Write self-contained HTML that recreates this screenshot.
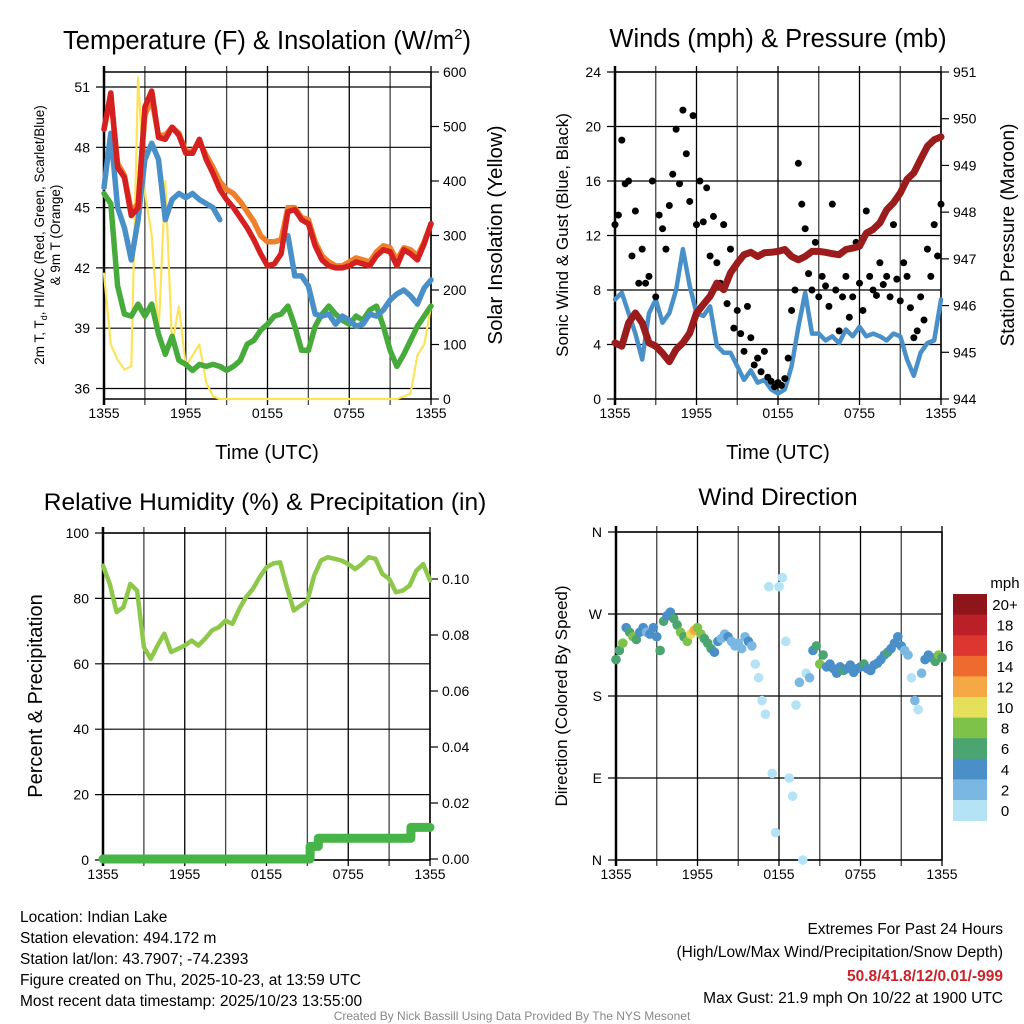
<!DOCTYPE html>
<html><head><meta charset="utf-8"><style>
html,body{margin:0;padding:0;background:#fff}
svg{display:block;font-family:"Liberation Sans",sans-serif}
</style></head><body>
<svg id="s" width="1024" height="1024" viewBox="0 0 1024 1024" xmlns="http://www.w3.org/2000/svg">
<g id="bg"></g>
<g id="fg"></g>
<text x="267" y="49" font-size="25.5" text-anchor="middle">Temperature (F) &amp; Insolation (W/m<tspan font-size="15" dy="-10">2</tspan><tspan dy="10">)</tspan></text>
<text x="778" y="47" font-size="25.5" text-anchor="middle">Winds (mph) &amp; Pressure (mb)</text>
<text x="265" y="510" font-size="24.5" text-anchor="middle">Relative Humidity (%) &amp; Precipitation (in)</text>
<text x="778" y="505" font-size="24.5" text-anchor="middle">Wind Direction</text>
<text x="267" y="459" font-size="20" text-anchor="middle">Time (UTC)</text>
<text x="778" y="459" font-size="20" text-anchor="middle">Time (UTC)</text>
<text transform="translate(44,235) rotate(-90)" font-size="13.5" text-anchor="middle">2m T, T<tspan font-size="9" dy="3">d</tspan><tspan dy="-3">, HI/WC (Red, Green, Scarlet/Blue)</tspan></text>
<text transform="translate(60,235) rotate(-90)" font-size="13.5" text-anchor="middle">&amp; 9m T (Orange)</text>
<text transform="translate(502,235) rotate(-90)" font-size="20.5" text-anchor="middle">Solar Insolation (Yellow)</text>
<text transform="translate(568,235) rotate(-90)" font-size="17" text-anchor="middle">Sonic Wind &amp; Gust (Blue, Black)</text>
<text transform="translate(1014,235) rotate(-90)" font-size="19" text-anchor="middle">Station Pressure (Maroon)</text>
<text transform="translate(42,696) rotate(-90)" font-size="20" text-anchor="middle">Percent &amp; Precipitation</text>
<text transform="translate(567,696) rotate(-90)" font-size="17" text-anchor="middle">Direction (Colored By Speed)</text>
<text x="1005" y="588" font-size="15" text-anchor="middle">mph</text>
<g font-size="15.5">
<text x="20" y="922">Location: Indian Lake</text>
<text x="20" y="943">Station elevation: 494.172 m</text>
<text x="20" y="964">Station lat/lon: 43.7907; -74.2393</text>
<text x="20" y="985">Figure created on Thu, 2025-10-23, at 13:59 UTC</text>
<text x="20" y="1006">Most recent data timestamp: 2025/10/23 13:55:00</text>
</g>
<g font-size="15.5" text-anchor="end">
<text x="1003" y="934">Extremes For Past 24 Hours</text>
<text x="1003" y="957">(High/Low/Max Wind/Precipitation/Snow Depth)</text>
<text x="1003" y="981" fill="#cc2229" font-weight="bold">50.8/41.8/12/0.01/-999</text>
<text x="1003" y="1003">Max Gust: 21.9 mph On 10/22 at 1900 UTC</text>
</g>
<text x="512" y="1020" font-size="12" fill="#888" text-anchor="middle">Created By Nick Bassill Using Data Provided By The NYS Mesonet</text>
</svg>
<script>
// ---- data (30-min steps unless noted) ----
const xTicks = ["1355","1955","0155","0755","1355"];
const tempT = [48.9,50.7,47.0,46.5,44.6,45.0,50.0,50.8,48.5,48.4,49.0,48.6,47.7,47.7,48.4,47.4,46.7,45.9,45.4,45.0,44.5,44.0,43.4,42.7,42.1,42.2,42.7,44.8,44.9,44.4,44.2,43.1,42.4,42.1,42.0,42.0,42.1,42.3,42.2,42.1,42.6,42.9,42.8,42.1,42.9,42.7,42.4,43.2,44.2];
const temp9m = [48.9,50.5,47.2,46.6,44.8,45.2,49.6,50.4,48.6,48.6,49.0,48.7,47.8,47.8,48.3,47.6,47.0,46.3,45.9,45.7,45.3,44.8,44.3,43.6,43.3,43.3,43.4,45.0,45.0,44.5,44.4,43.3,42.6,42.3,42.1,42.1,42.3,42.5,42.4,42.3,42.8,43.1,43.0,42.4,43.0,42.9,42.6,43.3,44.2];
const tempWC = [46.0,48.7,45.0,44.0,42.4,44.4,47.4,48.2,47.4,44.4,45.4,45.7,45.5,45.7,45.4,45.2,45.0,44.4,null,44.5,null,null,null,null,null,null,null,43.6,41.6,41.6,41.1,39.7,39.6,39.7,39.2,39.6,39.4,39.1,39.2,39.7,39.6,39.9,40.4,40.7,40.9,40.6,40.2,41.0,41.4];
const tempTd = [45.7,45.2,41.1,39.7,39.6,40.2,39.6,40.2,38.7,37.7,38.6,37.4,37.2,36.9,37.2,37.1,37.2,37.1,36.9,37.1,37.4,38.2,38.4,38.9,39.2,39.6,39.7,40.1,39.1,37.9,37.9,39.1,39.7,40.1,39.7,39.4,39.2,39.6,39.4,39.9,40.1,39.1,37.9,37.1,37.7,38.4,39.1,39.6,40.1];
const solar = [230,100,72,54,60,590,380,300,120,400,100,170,60,80,100,30,5,0,0,0,0,0,0,0,0,0,0,0,0,0,0,0,0,0,0,0,0,0,0,0,0,0,0,0,5,10,80,100,170];
const windSpd = [7.3,7.8,6.3,4.8,2.9,6.3,7.3,5.6,6.3,8.0,11.0,8.3,6.3,6.1,6.8,3.9,3.4,3.4,2.4,1.4,2.1,1.2,1.4,0.7,0.4,0.7,2.4,5.3,7.8,4.8,4.8,4.3,4.6,4.1,5.1,4.6,5.3,4.6,4.8,4.6,4.3,4.8,4.6,2.9,1.7,3.4,4.1,4.3,7.3];
const pressure = [945.2,945.13,945.63,945.84,945.63,945.2,945.13,944.98,944.8,945.06,945.2,945.41,945.84,946.02,946.2,946.48,946.34,946.7,946.91,947.09,947.14,947.05,947.13,947.14,947.16,947.2,947.05,946.98,947.05,947.16,947.16,947.14,947.11,947.09,947.2,947.23,947.27,947.55,947.63,947.77,948.05,948.2,948.41,948.7,948.84,949.13,949.41,949.55,949.61];
// 15-min steps
const gust = [12.8,13.5,19,15.8,16,10.5,13.8,8.5,11, 8.5,9,16,7.5,13.5,12.5,11,14.2, 16.5,19.8,15.8,21.2,18,14.5,20.8,12.8, 16,13,15.5,10.5,13.4,10,8.5,12.8, 7,11,5.2,6.5,4.8,3.5,6.8,4.5, 2.5,3,2,3.5,1.6,1.3,0.9,1.2, 1,1.5,3,6.5,8,17.3,14.3,12.5, 9.2,8,11.5,7.5,9,8.3,6.8,14.3, 8,5,7.5,9,6,7.5,11.5,8.5, 6.5,13.8,9,8,7.6,10,8.4,9, 7.5,12.8,8.8,7.2,10,9,6.7,4.5, 5,7.5,5.8,11,9,12.8,10.5,14.3];
const rh = [90,84.4,75.8,77.3,84.4,82.4,65.1,61.5,65.6,69.2,63.6,64.6,65.6,67.1,65.6,67.7,70.2,71.2,73.2,72.2,76.8,80.4,82.9,86.5,89.5,90.7,91,83.4,76.3,77.8,79.3,87,91.6,92.6,92.1,91.6,90.5,89,90.5,92.6,92.1,87.5,86,81.9,82.4,83.9,88.5,90.5,85.5];
const precipT = [0,15.2,15.8,22.6,24];
const precipV = [0,0.0045,0.0074,0.0113,0.0113];
const windDir = [220,230,238,255,250,245,242,250,255, 250,248,255,245,230,262,268,272, 265,258,250,245,240,248,252,255, 248,243,238,232,228,240,243,248, 245,240,235,238,232,245,240,235, 215,200,175,160,300,95,30,300, 310,240,90,70,170,195,0,205, 200,230,235,215,225,212,215,210, 205,212,208,210,214,206,210,212, 215,210,208,214,216,220,225,228, 232,238,245,235,230,225,200,175, 165,205,220,225,222,218,225,222];
const dirSpd = [6,7,8,5,7,8,7,5,4, 3,4,5,4,7,6,5,4, 6,7,8,7,9,10,12,9, 8,7,7,6,5,4,3,3, 4,3,3,2,3,2,4,3, 1,1,0.5,1,1,1,1,0.5, 1,1,0.5,1,1,2,0.5,1, 3,5,7,8,6,4,5,4, 4,5,6,4,5,4,4,5, 7,4,5,4,5,4,5,6, 5,4,5,4,3,3,1,2, 1,3,4,5,4,6,8,6];
const legendLabels = ["20+","18","16","14","12","10","8","6","4","2","0"];
const legendColors = ["#8e1519","#bb1f27","#dd3530","#ee6a2e","#f5a844","#e5e05a","#7fc24a","#4aa570","#4a8fc7","#7ab8e3","#b3e3f5"];

const NS="http://www.w3.org/2000/svg";
const bg=document.getElementById('bg'), fg=document.getElementById('fg');
function mk(tag,attrs,parent){const e=document.createElementNS(NS,tag);for(const k in attrs)e.setAttribute(k,attrs[k]);(parent||fg).appendChild(e);return e;}
function txt(x,y,s,size,anchor,parent){const t=mk('text',{x:x,y:y,'font-size':size,'text-anchor':anchor||'middle'},parent);t.textContent=s;return t;}

function panel(p){
  for(let h=0;h<=24;h+=3){const x=p.X(h);
    const l=mk('line',{x1:x,x2:x,y1:p.y0-6,y2:p.y1+6,stroke:(h%6? '#444':'#000'),'stroke-width':1.3},bg);
    
    }
  for(let i=0;i<xTicks.length;i++){const t=txt(p.X(i*6),p.y1+19,xTicks[i],14);
    
    }
  mk('rect',{x:p.x0,y:p.y0,width:p.x1-p.x0,height:p.y1-p.y0,fill:'none',stroke:'#000','stroke-width':1.5},bg);
  mk('line',{x1:p.x0,x2:p.x0,y1:p.y0-6,y2:p.y1+6,stroke:'#000','stroke-width':2.5},bg);
}
function hgrid(p,vals,Y,labels,side){
  vals.forEach((v,i)=>{const y=Y(v);
    const l=mk('line',{x1:p.x0-8,x2:p.x1+(side?8:0),y1:y,y2:y,stroke:'#000','stroke-width':1.2},bg);
    
    
    const t=txt(p.x0-14,y+5,labels[i],14,'end');
    
    });
}
function rticks(p,vals,Y,labels){
  vals.forEach((v,i)=>{const y=Y(v);
    mk('line',{x1:p.x1,x2:p.x1+8,y1:y,y2:y,stroke:'#000','stroke-width':1.2},bg);
    const t=txt(p.x1+12,y+5,labels[i],14,'start');
    
    });
}
function line(arr,step,X,Y,color,w,name){
  let d='',pen=false;
  arr.forEach((v,i)=>{if(v===null){pen=false;return;}d+=(pen?'L':'M')+X(i*step).toFixed(1)+' '+Y(v).toFixed(1);pen=true;});
  const e=mk('path',{d:d,fill:'none',stroke:color,'stroke-width':w,'stroke-linejoin':'round','stroke-linecap':'round'});
  
  
  return e;
}

// ---- Panel 1: temperature ----
const P1={x0:104,x1:431,y0:72,y1:399};P1.X=h=>P1.x0+h/24*(P1.x1-P1.x0);
const Y1=v=>87+(51-v)*20.1, S1=v=>399-v/600*327;
panel(P1);
hgrid(P1,[36,39,42,45,48,51],Y1,["36","39","42","45","48","51"]);
rticks(P1,[0,100,200,300,400,500,600],S1,["0","100","200","300","400","500","600"]);
line(solar,0.5,P1.X,S1,'#fde35a',2.2,'solar-line');
line(tempTd,0.5,P1.X,Y1,'#46ab3a',5.5,'dewpoint-line');
line(tempWC,0.5,P1.X,Y1,'#4a90c8',5.5,'windchill-line');
line(temp9m,0.5,P1.X,Y1,'#f07f2a',5.5,'temp-9m-line');
line(tempT,0.5,P1.X,Y1,'#d42020',5.5,'temp-2m-line');

// ---- Panel 2: winds ----
const P2={x0:615,x1:941,y0:72,y1:399};P2.X=h=>P2.x0+h/24*(P2.x1-P2.x0);
const Y2=v=>399-v*327/24, PR=v=>399-(v-944)*327/7;
panel(P2);
hgrid(P2,[0,4,8,12,16,20,24],Y2,["0","4","8","12","16","20","24"]);
rticks(P2,[944,945,946,947,948,949,950,951],PR,["944","945","946","947","948","949","950","951"]);
line(windSpd,0.5,P2.X,Y2,'#4a90c8',4.5,'wind-speed-line');
gust.forEach((g,i)=>{const c=mk('circle',{cx:P2.X(i*0.25),cy:Y2(g),r:3.5,fill:'#000'});
  
  });
line(pressure,0.5,P2.X,PR,'#9b1c1c',7,'pressure-line');

// ---- Panel 3: RH ----
const P3={x0:103,x1:430,y0:533,y1:860};P3.X=h=>P3.x0+h/24*(P3.x1-P3.x0);
const Y3=v=>860-v*3.27, PC=v=>859-v*2800;
panel(P3);
hgrid(P3,[0,20,40,60,80,100],Y3,["0","20","40","60","80","100"]);
rticks(P3,[0,0.02,0.04,0.06,0.08,0.10],PC,["0.00","0.02","0.04","0.06","0.08","0.10"]);
line(rh,0.5,P3.X,Y3,'#8dc84a',4.5,'rh-line');
{let d='M'+P3.X(precipT[0]).toFixed(1)+' '+PC(precipV[0]).toFixed(1);
 for(let i=1;i<precipT.length;i++){d+='L'+P3.X(precipT[i]).toFixed(1)+' '+PC(precipV[i-1]).toFixed(1)+'L'+P3.X(precipT[i]).toFixed(1)+' '+PC(precipV[i]).toFixed(1);}
 const e=mk('path',{d:d,fill:'none',stroke:'#46b446','stroke-width':9,'stroke-linecap':'round','stroke-linejoin':'round'});
 
 }

// ---- Panel 4: wind direction ----
const P4={x0:616,x1:942,y0:532,y1:860};P4.X=h=>P4.x0+h/24*(P4.x1-P4.x0);
const Y4=d=>860-d/360*328;
panel(P4);
hgrid(P4,[0,90,180,270,360],Y4,["N","E","S","W","N"]);
function spdColor(s){let b=Math.min(10,Math.floor(s/2));return legendColors[10-b];}
windDir.forEach((d,i)=>{const c=mk('circle',{cx:P4.X(i*0.25),cy:Y4(d),r:4.8,fill:spdColor(dirSpd[i])});
  
  });
legendColors.forEach((c,i)=>{const y=594+i*20.6;
  const r=mk('rect',{x:953,y:y,width:34,height:21,fill:c});
  
  
  const t=txt(1005,y+16,legendLabels[i],15);
  
  });
</script>
</body></html>
